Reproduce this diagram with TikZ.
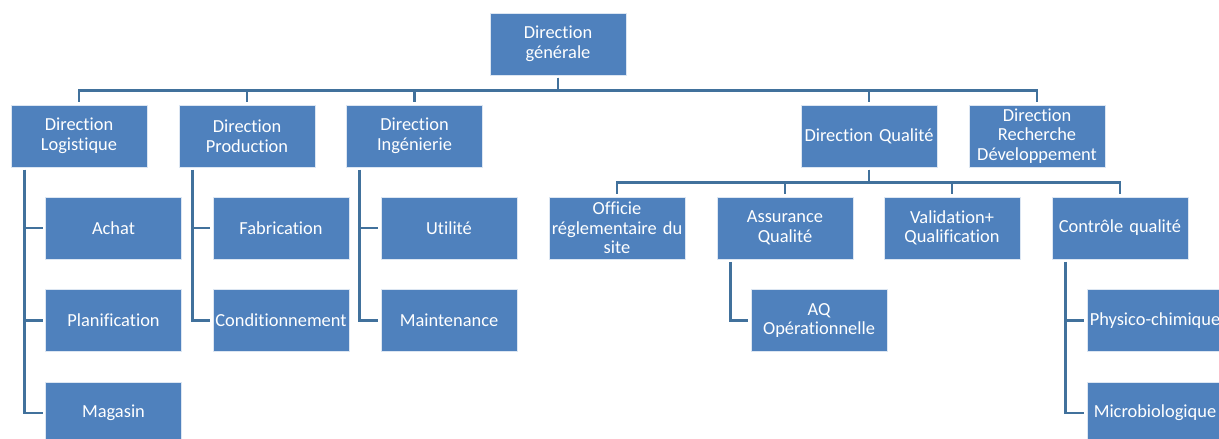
\documentclass[tikz,border=0pt]{standalone}
\usepackage{fontspec}
\setmainfont{Carlito}[Ligatures={NoCommon}]
\definecolor{boxfill}{HTML}{4F81BD}
\definecolor{boxedge}{HTML}{DCE6F2}
\definecolor{linkcol}{HTML}{41719C}
\begin{document}
\begin{tikzpicture}[x=1pt,y=-1pt,
  unit/.style={rectangle, fill=boxfill, draw=boxedge, line width=0.8pt,
    minimum width=136pt, minimum height=62pt, text width=134pt, inner sep=0pt,
    align=center, text=white, font=\fontsize{18.4}{19.5}\selectfont},
  link/.style={draw=linkcol, line width=2.9pt, shorten <=2.5pt, shorten >=2.5pt}]
\useasboundingbox (0,0) rectangle (1219,439);

% top management
\node[unit] (dg) at (558,44) {Direction\\générale};

% directions
\node[unit] (dlog) at (79,136)   {Direction\\Logistique};
\node[unit] (dprod) at (247,136) {Direction\\Production};
\node[unit] (ding) at (414.5,136) {Direction\\Ingénierie};
\node[unit] (dq) at (869,136)    {Direction Qualité};
\node[unit] (drd) at (1037,136)  {Direction\\Recherche\\Développement};

% services
\node[unit] (achat) at (113.5,228)  {Achat};
\node[unit] (plan) at (113.5,320.5) {Planification};
\node[unit] (mag) at (113.5,413)    {Magasin};
\node[unit] (fab) at (281,228)      {Fabrication};
\node[unit] (cond) at (281,320.5)   {Conditionnement};
\node[unit] (util) at (449,228)     {Utilité};
\node[unit] (maint) at (449,320.5)  {Maintenance};
\node[unit] (off) at (617,228)      {Officie\\réglementaire du\\site};
\node[unit] (aq) at (785,228)       {Assurance\\Qualité};
\node[unit] (val) at (952,228)      {Validation+\\Qualification};
\node[unit] (cq) at (1120,228)      {Contrôle qualité};
\node[unit] (aqop) at (819,320.5)   {AQ\\Opérationnelle};
\node[unit] (phys) at (1155,320.5)  {Physico-chimique};
\node[unit] (micro) at (1155,413)   {Microbiologique};

% links from the general direction
\foreach \c in {dlog,dprod,ding,dq,drd}
  \draw[link] (dg.south) -- ++(0,15) -| (\c.north);

% links inside the quality direction
\foreach \c in {off,aq,val,cq}
  \draw[link] (dq.south) -- ++(0,15) -| (\c.north);

% side links down to the services
\foreach \p/\c in {dlog/achat,dlog/plan,dlog/mag,dprod/fab,dprod/cond,
                   ding/util,ding/maint,aq/aqop,cq/phys,cq/micro}
  \draw[link] ([xshift=13.5pt]\p.south west) |- (\c.west);
\end{tikzpicture}
\end{document}
